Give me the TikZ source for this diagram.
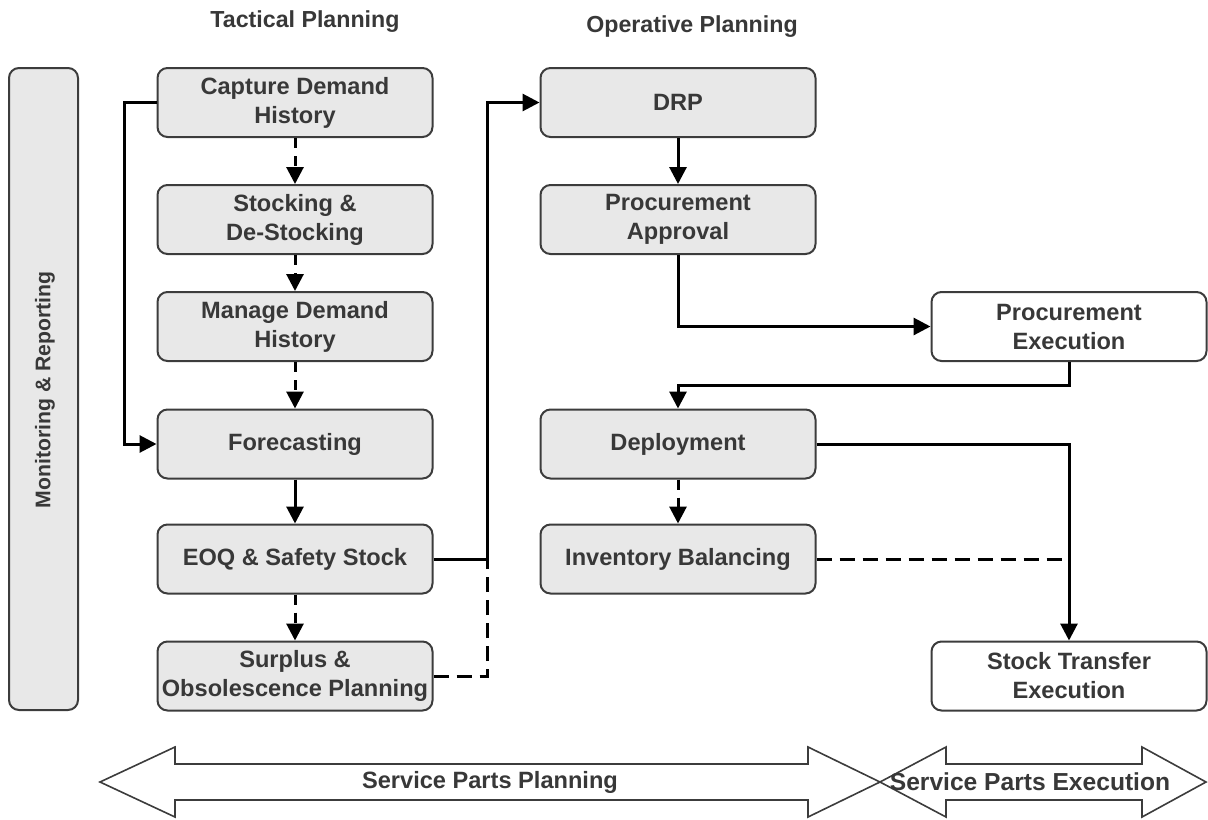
\documentclass[tikz,border=0pt]{standalone}
\usepackage{fontspec}
\setmainfont{Liberation Sans}
\usetikzlibrary{arrows.meta,calc}
\definecolor{boxfill}{HTML}{E8E8E8}
\definecolor{boxline}{HTML}{3C3C3C}
\definecolor{txt}{HTML}{383838}
\tikzset{
  box/.style={draw=boxline, line width=1pt, rounded corners=5pt, fill=boxfill,
    minimum width=137.5pt, minimum height=34.5pt, align=center, text=txt,
    font=\fontsize{11.8}{14.5}\selectfont\bfseries, inner sep=1pt},
  wbox/.style={box, fill=white},
  conn/.style={line width=1.5pt, -{Triangle[length=8.5pt,width=8.5pt]}},
  dconn/.style={conn, dash pattern=on 5pt off 4pt},
  dline/.style={line width=1.5pt, dash pattern=on 7.5pt off 4pt},
  title/.style={text=txt, font=\fontsize{11.6}{14}\selectfont\bfseries},
  band/.style={draw=boxline, line width=0.8pt, fill=white},
  bandtext/.style={text=txt, font=\fontsize{11.8}{14}\selectfont\bfseries}
}
\begin{document}
\begin{tikzpicture}[x=0.5pt,y=-0.5pt]
\useasboundingbox (0,0) rectangle (1208,819);
% titles
\node[title] (tt) at (305,22) {Tactical Planning};
\node[title] (ot) at (692,27) {Operative Planning};
% monitoring bar
\node[box, minimum width=34.5pt, minimum height=321pt] (mon) at (43.5,389) {};
\node[title, rotate=90, font=\fontsize{10.6}{13}\selectfont\bfseries] (montext) at (45,390) {Monitoring \& Reporting};
% left column
\node[box] (cap) at (295,102.5) {Capture Demand\\History};
\node[box] (stk) at (295,219.5) {Stocking \&\\De-Stocking};
\node[box] (mdh) at (295,326.5) {Manage Demand\\History};
\node[box] (fc)  at (295,444) {Forecasting};
\node[box] (eoq) at (295,559) {EOQ \& Safety Stock};
\node[box] (sur) at (295,676) {Surplus \&\\Obsolescence Planning};
% middle column
\node[box] (drp) at (678,102.5) {DRP};
\node[box] (pa)  at (678,219.5) {Procurement\\Approval};
\node[box] (dep) at (678,444) {Deployment};
\node[box] (ib)  at (678,559) {Inventory Balancing};
% right column
\node[wbox] (pe)  at (1069,326.5) {Procurement\\Execution};
\node[wbox] (ste) at (1069,676) {Stock Transfer\\Execution};
% connectors left column
\draw[dconn] (cap) -- (stk);
\draw[dconn] (stk) -- (mdh);
\draw[dconn] (mdh) -- (fc);
\draw[conn] (fc) -- (eoq);
\draw[dconn] (eoq) -- (sur);
\draw[conn] (cap.west) -- ++(-32,0) |- (fc.west);
\coordinate (j1) at ($(eoq.east)+(54,0)$);
\draw[conn] (eoq.east) -- (j1) |- (drp.west);
\draw[dline] (sur.east) -| (j1);
% connectors middle/right
\draw[conn] (drp) -- (pa);
\draw[conn] (pa.south) |- (pe.west);
\draw[conn] (pe.south) -- ++(0,23) -| (dep.north);
\draw[conn] (dep.east) -| (ste.north);
\draw[dconn] (dep) -- (ib);
\coordinate (j2) at (ib.east -| ste.north);
\draw[dline] (ib.east) -- (j2);
% bottom bands
\draw[band] (100,782) -- (175,747) -- (175,764) -- (808,764) -- (808,747) -- (880,782)
  -- (808,817) -- (808,800) -- (175,800) -- (175,817) -- cycle;
\draw[band] (880,782) -- (946,747) -- (946,764) -- (1142,764) -- (1142,747) -- (1206,782)
  -- (1142,817) -- (1142,800) -- (946,800) -- (946,817) -- cycle;
\node[bandtext] (spp) at (490,782) {Service Parts Planning};
\node[bandtext, font=\fontsize{12.3}{14}\selectfont\bfseries] (spe) at (1030,782) {Service Parts Execution};
\end{tikzpicture}
\end{document}
